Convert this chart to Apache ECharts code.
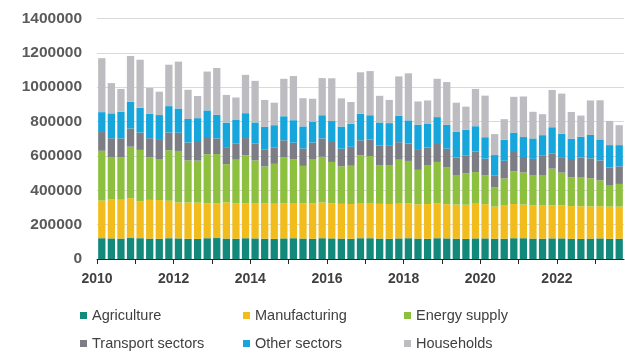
<!DOCTYPE html>
<html><head><meta charset="utf-8">
<script src="https://cdn.jsdelivr.net/npm/echarts@6/dist/echarts.min.js"></script>
<style>html,body{margin:0;padding:0;background:#fff}#c{width:625px;height:355px}</style>
</head><body><div id="c"></div>
<script>
// Categories: quarters 2010Q1 .. 2023Q3
const years = [2010,2011,2012,2013,2014,2015,2016,2017,2018,2019,2020,2021,2022,2023];
const quarters = [];
years.forEach(y => ['Q1','Q2','Q3','Q4'].forEach(q => quarters.push(y + q)));
quarters.length = 55;

const tickYears = [2010,2011,2012,2013,2014,2015,2016,2017,2018,2019,2020,2021,2022,2023];
const labelYears = [2010,2012,2014,2016,2018,2020,2022];
const yTicks = [0,200000,400000,600000,800000,1000000,1200000,1400000];

// values in thousands
const agriculture = [121,120,119,122,121,119,118,121,120,118,117,121,122,119,118,121,120,118,117,120,121,119,118,121,120,119,118,121,121,119,118,120,121,119,118,121,120,118,117,120,120,118,118,121,121,119,118,120,120,118,117,119,120,118,118];
const manufacturing = [219,226,226,232,214,225,225,218,209,211,211,203,203,211,207,203,203,207,205,205,205,205,205,208,205,202,202,205,202,202,202,202,202,199,202,202,199,199,199,202,199,187,196,199,196,193,193,193,193,190,190,187,187,187,187];
const energySupply = [290,248,248,300,300,247,239,294,300,245,245,286,286,222,253,280,251,214,232,266,254,218,259,266,240,218,223,278,276,223,227,256,248,201,227,242,216,172,182,184,168,112,155,191,187,174,178,213,190,167,167,164,151,122,132];
const transport = [109,109,109,106,101,112,116,103,106,104,108,100,91,99,93,100,99,97,96,100,97,102,96,107,116,103,110,87,97,116,112,102,101,116,102,110,107,102,103,120,97,68,103,112,90,97,112,87,90,107,116,116,116,106,102];
const otherSectors = [116,145,155,155,145,142,140,154,141,137,139,155,137,143,138,145,122,133,129,140,131,128,122,135,122,129,135,155,141,135,132,155,135,147,137,151,139,149,151,147,125,120,122,113,116,119,120,154,136,119,122,136,122,130,124];
const households = [314,176,133,267,279,151,136,241,273,170,129,226,273,161,131,223,242,157,131,218,257,164,133,216,249,164,126,241,257,155,135,228,274,135,137,223,249,170,135,217,242,122,120,208,236,155,122,217,234,155,123,201,228,141,116];

const seriesNames = ['Agriculture','Manufacturing','Energy supply','Transport sectors','Other sectors','Households'];
const seriesData = [agriculture, manufacturing, energySupply, transport, otherSectors, households];
const colors = ['#12897a','#f2bd1c','#8dc03f','#7d7d85','#17a6dc','#bdbdc1'];

const FONT = 'Liberation Sans, Arial, sans-serif';
const chart = echarts.init(document.getElementById('c'), null, {renderer:'canvas'});

const legendLeft = [80, 243, 404];
const legendTop = [308, 336];

chart.setOption({
  animation: false,
  backgroundColor: '#fff',
  textStyle: {fontFamily: FONT},
  grid: {left: 97, right: 1, top: 18.5, bottom: 96},
  xAxis: [
    {type:'category', data: quarters, gridIndex:0,
     axisLine:{show:true, lineStyle:{color:'#262626', width:1}},
     axisTick:{show:false}, axisLabel:{show:false}, splitLine:{show:false}},
    {type:'value', min:2010, max:2023.75, gridIndex:0, position:'bottom',
     axisLine:{show:false}, splitLine:{show:false},
     axisTick:{show:true, customValues: tickYears, length:5, lineStyle:{color:'#262626'}},
     axisLabel:{customValues: labelYears, formatter: v => String(v), margin:13,
       fontSize:14, fontWeight:'bold', color:'#404040', fontFamily: FONT}}
  ],
  yAxis: {type:'value', min:0, max:1400000, interval:200000,
    axisLine:{show:false}, axisTick:{show:false},
    axisLabel:{fontSize:15.5, fontWeight:'bold', color:'#5a5a5a', margin:15, fontFamily: FONT,
      customValues: yTicks, formatter: v => String(v)},
    splitLine:{lineStyle:{color:'#d9d9d9', width:1}}},
  legend: seriesNames.map((n, i) => ({
    data:[n], left: legendLeft[i % 3], top: legendTop[Math.floor(i / 3)],
    icon:'rect', itemWidth:7, itemHeight:7, itemGap:0, padding:0,
    textStyle:{fontSize:14.5, color:'#404040', fontFamily: FONT}
  })),
  series: seriesNames.map((n, i) => ({
    name: n, type:'bar', stack:'total', xAxisIndex:0, yAxisIndex:0,
    barCategoryGap:'24%',
    itemStyle:{color: colors[i]},
    data: seriesData[i].map(v => v * 1000)
  }))
});
</script></body></html>
